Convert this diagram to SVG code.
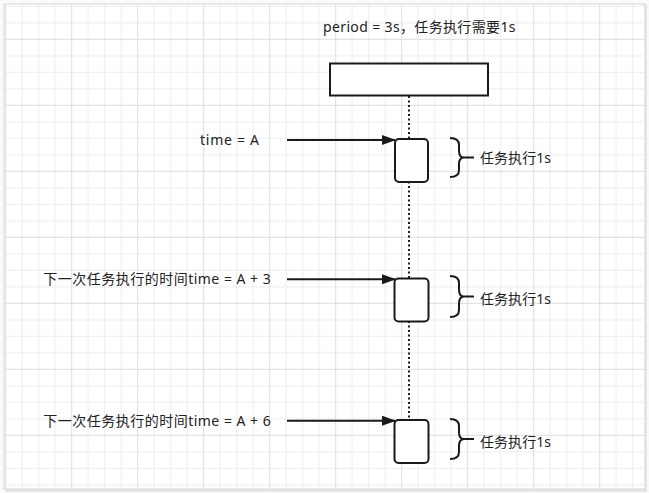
<svg xmlns="http://www.w3.org/2000/svg" width="649" height="493" viewBox="0 0 649 493">
<style>
.t{font-family:"Noto Sans","Noto Sans CJK SC",sans-serif;font-size:14px;fill:#222;}
.box{fill:#fff;stroke:#1a1a1a;stroke-width:2;}
.arr{fill:none;stroke:#1a1a1a;stroke-width:2;}
.brace{fill:none;stroke:#1a1a1a;stroke-width:2;}
</style>
<defs>
<pattern id="grid" patternUnits="userSpaceOnUse" x="5.2" y="38.8" width="66" height="66">
<rect x="16.5" y="0" width="1" height="66" fill="#ececec"/>
<rect x="33" y="0" width="1" height="66" fill="#ececec"/>
<rect x="49.5" y="0" width="1" height="66" fill="#ececec"/>
<rect x="0" y="16.5" width="66" height="1" fill="#ececec"/>
<rect x="0" y="33" width="66" height="1" fill="#ececec"/>
<rect x="0" y="49.5" width="66" height="1" fill="#ececec"/>
<rect x="0" y="0" width="1" height="66" fill="#dcdcdc"/>
<rect x="0" y="0" width="66" height="1" fill="#dcdcdc"/>
</pattern>
<marker id="ah" viewBox="0 0 14 10" refX="13" refY="5" markerWidth="14" markerHeight="10" markerUnits="userSpaceOnUse" orient="auto">
<path d="M0,0 L14,5 L0,10 Z" fill="#1a1a1a"/>
</marker>
</defs>
<rect x="0" y="0" width="649" height="493" fill="#fafafa"/>
<rect x="5" y="5" width="642" height="487" fill="#e6e6e6"/>
<rect x="4" y="4" width="641" height="485" fill="#fff" stroke="#d6d6d6" stroke-width="1"/>
<rect x="4.5" y="4.5" width="640" height="484" fill="url(#grid)"/>

<g id="title"><text class="t" x="323" y="32" textLength="192.5" lengthAdjust="spacing">period = 3s，任务执行需要1s</text></g>

<g id="connectors">
<line id="lifeline" x1="409" y1="96" x2="409" y2="420" stroke="#1a1a1a" stroke-width="2" stroke-dasharray="2 2.5"/>
<line class="arr" x1="287" y1="140" x2="395" y2="140" marker-end="url(#ah)"/>
<line class="arr" x1="287" y1="279.3" x2="395" y2="279.3" marker-end="url(#ah)"/>
<line class="arr" x1="287" y1="420.7" x2="395" y2="420.7" marker-end="url(#ah)"/>
</g>

<g id="head"><rect class="box" x="330" y="63.5" width="158" height="32"/></g>

<g id="task1">
<rect class="box" x="395" y="139" width="33" height="43" rx="4"/>
<text class="t" x="200" y="145" textLength="59" lengthAdjust="spacing">time = A</text>
<path class="brace" d="M450,138 Q459,138 459,145 V151 Q459,157.5 464,157.5 Q459,157.5 459,164 V170 Q459,177 450,177 M464,157.5 H474"/>
<text class="t" x="480" y="163" textLength="71" lengthAdjust="spacing">任务执行1s</text>
</g>

<g id="task2">
<rect class="box" x="394.5" y="278.5" width="34" height="43" rx="4"/>
<text class="t" x="43.3" y="284" textLength="227.4" lengthAdjust="spacing">下一次任务执行的时间time = A + 3</text>
<path class="brace" d="M450,276 Q459,276 459,283 V289.5 Q459,296.5 464,296.5 Q459,296.5 459,303.5 V310 Q459,317 450,317 M464,296.5 H474"/>
<text class="t" x="480" y="304" textLength="71" lengthAdjust="spacing">任务执行1s</text>
</g>

<g id="task3">
<rect class="box" x="394.5" y="420" width="34" height="43" rx="4"/>
<text class="t" x="43.3" y="425.5" textLength="227.4" lengthAdjust="spacing">下一次任务执行的时间time = A + 6</text>
<path class="brace" d="M450,419 Q459,419 459,426 V432 Q459,439 464,439 Q459,439 459,446 V452 Q459,459 450,459 M464,439 H474"/>
<text class="t" x="480" y="446.5" textLength="71" lengthAdjust="spacing">任务执行1s</text>
</g>
</svg>
